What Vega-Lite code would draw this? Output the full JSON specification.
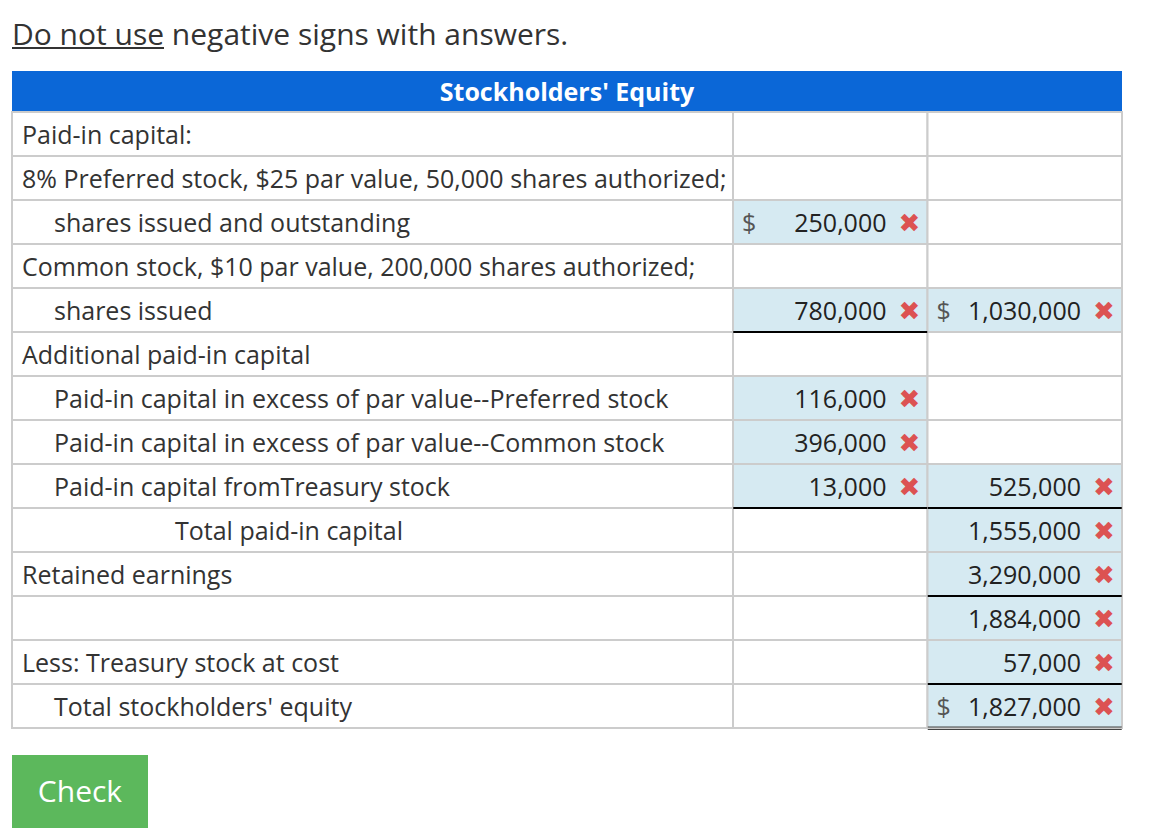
{
  "$schema": "https://vega.github.io/schema/vega-lite/v6.json",
  "width": 1165,
  "height": 834,
  "autosize": {"type": "fit", "contains": "padding"},
  "padding": 0,
  "background": "white",
  "config": {
    "view": {"stroke": null},
    "axis": {"disable": true},
    "legend": {"disable": true},
    "text": {"font": "Open Sans", "fontSize": 25, "color": "#333333"}
  },
  "datasets": {
    "table": [
      {"r": 1, "c": "L", "t": "Paid-in capital:", "lvl": 0},
      {"r": 2, "c": "L", "t": "8% Preferred stock, $25 par value, 50,000 shares authorized;", "lvl": 0},
      {"r": 3, "c": "L", "t": "shares issued and outstanding", "lvl": 1},
      {"r": 4, "c": "L", "t": "Common stock, $10 par value, 200,000 shares authorized;", "lvl": 0},
      {"r": 5, "c": "L", "t": "shares issued", "lvl": 1},
      {"r": 6, "c": "L", "t": "Additional paid-in capital", "lvl": 0},
      {"r": 7, "c": "L", "t": "Paid-in capital in excess of par value--Preferred stock", "lvl": 1},
      {"r": 8, "c": "L", "t": "Paid-in capital in excess of par value--Common stock", "lvl": 1},
      {"r": 9, "c": "L", "t": "Paid-in capital fromTreasury stock", "lvl": 1},
      {"r": 10, "c": "L", "t": "Total paid-in capital", "lvl": 2},
      {"r": 11, "c": "L", "t": "Retained earnings", "lvl": 0},
      {"r": 12, "c": "L", "t": "", "lvl": 0},
      {"r": 13, "c": "L", "t": "Less: Treasury stock at cost", "lvl": 0},
      {"r": 14, "c": "L", "t": "Total stockholders' equity", "lvl": 1},
      {"r": 1, "c": "A"}, {"r": 1, "c": "B"},
      {"r": 2, "c": "A"}, {"r": 2, "c": "B"},
      {"r": 3, "c": "A", "v": 250000, "cur": "$", "ok": false}, {"r": 3, "c": "B"},
      {"r": 4, "c": "A"}, {"r": 4, "c": "B"},
      {"r": 5, "c": "A", "v": 780000, "ok": false, "line": "single"},
      {"r": 5, "c": "B", "v": 1030000, "cur": "$", "ok": false},
      {"r": 6, "c": "A"}, {"r": 6, "c": "B"},
      {"r": 7, "c": "A", "v": 116000, "ok": false}, {"r": 7, "c": "B"},
      {"r": 8, "c": "A", "v": 396000, "ok": false}, {"r": 8, "c": "B"},
      {"r": 9, "c": "A", "v": 13000, "ok": false, "line": "single"},
      {"r": 9, "c": "B", "v": 525000, "ok": false, "line": "single"},
      {"r": 10, "c": "A"}, {"r": 10, "c": "B", "v": 1555000, "ok": false},
      {"r": 11, "c": "A"}, {"r": 11, "c": "B", "v": 3290000, "ok": false, "line": "single"},
      {"r": 12, "c": "A"}, {"r": 12, "c": "B", "v": 1884000, "ok": false},
      {"r": 13, "c": "A"}, {"r": 13, "c": "B", "v": 57000, "ok": false, "line": "single"},
      {"r": 14, "c": "A"}, {"r": 14, "c": "B", "v": 1827000, "cur": "$", "ok": false, "line": "double"}
    ]
  },
  "resolve": {"scale": {"x": "independent", "y": "independent"}},
  "layer": [
    {
      "data": {"values": [{"t": "Do not use negative signs with answers."}]},
      "mark": {"type": "text", "align": "left", "baseline": "alphabetic", "fontSize": 30, "color": "#333333"},
      "encoding": {
        "x": {"field": "t", "type": "nominal", "bandPosition": 0, "scale": {"type": "band", "range": [12, 600], "padding": 0}},
        "y": {"field": "t", "type": "nominal", "bandPosition": 1, "scale": {"type": "band", "range": [0, 45], "padding": 0}},
        "text": {"field": "t"}
      }
    },
    {
      "data": {"values": [{"u": "Do not use"}]},
      "mark": {"type": "tick", "orient": "horizontal", "size": 152, "thickness": 2, "color": "#333333", "opacity": 1},
      "encoding": {
        "x": {"field": "u", "type": "nominal", "scale": {"type": "band", "range": [12, 164], "padding": 0}},
        "y": {"field": "u", "type": "nominal", "bandPosition": 1, "scale": {"type": "band", "range": [0, 48], "padding": 0}}
      }
    },
    {
      "data": {"values": [{"h": "Stockholders' Equity"}]},
      "mark": {"type": "rect", "fill": "#0b67d7"},
      "encoding": {
        "x": {"field": "h", "type": "nominal", "scale": {"type": "band", "range": [12, 1122], "padding": 0}},
        "y": {"field": "h", "type": "nominal", "scale": {"type": "band", "range": [71, 112], "padding": 0}}
      }
    },
    {
      "data": {"values": [{"h": "Stockholders' Equity"}]},
      "mark": {"type": "text", "align": "center", "baseline": "middle", "fontWeight": "bold", "fontSize": 25, "color": "white", "dy": 1},
      "encoding": {
        "x": {"field": "h", "type": "nominal", "scale": {"type": "band", "range": [12, 1122], "padding": 0}},
        "y": {"field": "h", "type": "nominal", "scale": {"type": "band", "range": [71, 112], "padding": 0}},
        "text": {"field": "h"}
      }
    },
    {
      "data": {"name": "table"},
      "transform": [{"filter": "datum.c === 'L'"}],
      "mark": {"type": "rect", "fill": "white", "stroke": "#cccccc", "strokeWidth": 2},
      "encoding": {
        "x": {"field": "c", "type": "nominal", "scale": {"type": "band", "domain": ["L"], "range": [12, 733], "padding": 0}},
        "y": {"field": "r", "type": "ordinal", "scale": {"type": "band", "domain": [1,2,3,4,5,6,7,8,9,10,11,12,13,14], "range": [112, 728], "padding": 0}}
      }
    },
    {
      "data": {"name": "table"},
      "transform": [{"filter": "datum.c !== 'L'"}],
      "mark": {"type": "rect", "stroke": "#cccccc", "strokeWidth": 2},
      "encoding": {
        "x": {"field": "c", "type": "nominal", "scale": {"type": "band", "domain": ["A", "B"], "range": [733, 1122], "padding": 0}},
        "y": {"field": "r", "type": "ordinal", "scale": {"type": "band", "domain": [1,2,3,4,5,6,7,8,9,10,11,12,13,14], "range": [112, 728], "padding": 0}},
        "fill": {"condition": {"test": "isValid(datum.v)", "value": "#d6eaf2"}, "value": "white"}
      }
    },
    {
      "data": {"name": "table"},
      "transform": [{"filter": "datum.c === 'L'"}],
      "mark": {"type": "text", "align": "left", "baseline": "middle", "dy": 2, "fontSize": 25, "color": "#333333"},
      "encoding": {
        "x": {"field": "lvl", "type": "quantitative", "scale": {"domain": [0, 1, 2], "range": [22, 54, 175], "nice": false, "zero": false}},
        "y": {"field": "r", "type": "ordinal", "scale": {"type": "band", "domain": [1,2,3,4,5,6,7,8,9,10,11,12,13,14], "range": [112, 728], "padding": 0}},
        "text": {"field": "t"}
      }
    },
    {
      "data": {"name": "table"},
      "transform": [{"filter": "isValid(datum.v)"}],
      "mark": {"type": "text", "align": "right", "baseline": "middle", "dx": -41, "dy": 2, "fontSize": 25, "color": "#222222"},
      "encoding": {
        "x": {"field": "c", "type": "nominal", "bandPosition": 1, "scale": {"type": "band", "domain": ["A", "B"], "range": [733, 1122], "padding": 0}},
        "y": {"field": "r", "type": "ordinal", "scale": {"type": "band", "domain": [1,2,3,4,5,6,7,8,9,10,11,12,13,14], "range": [112, 728], "padding": 0}},
        "text": {"field": "v", "type": "quantitative", "format": ","}
      }
    },
    {
      "data": {"name": "table"},
      "transform": [{"filter": "isValid(datum.cur)"}],
      "mark": {"type": "text", "align": "left", "baseline": "middle", "dx": 9, "dy": 2, "fontSize": 25, "color": "#555555"},
      "encoding": {
        "x": {"field": "c", "type": "nominal", "bandPosition": 0, "scale": {"type": "band", "domain": ["A", "B"], "range": [733, 1122], "padding": 0}},
        "y": {"field": "r", "type": "ordinal", "scale": {"type": "band", "domain": [1,2,3,4,5,6,7,8,9,10,11,12,13,14], "range": [112, 728], "padding": 0}},
        "text": {"field": "cur"}
      }
    },
    {
      "data": {"name": "table"},
      "transform": [{"filter": "datum.ok === false"}],
      "mark": {"type": "text", "align": "center", "baseline": "middle", "dx": -18, "dy": 2, "font": "DejaVu Sans", "fontSize": 26, "color": "#dc5252"},
      "encoding": {
        "x": {"field": "c", "type": "nominal", "bandPosition": 1, "scale": {"type": "band", "domain": ["A", "B"], "range": [733, 1122], "padding": 0}},
        "y": {"field": "r", "type": "ordinal", "scale": {"type": "band", "domain": [1,2,3,4,5,6,7,8,9,10,11,12,13,14], "range": [112, 728], "padding": 0}},
        "text": {"value": "✖"}
      }
    },
    {
      "data": {"name": "table"},
      "transform": [{"filter": "datum.line === 'single'"}],
      "mark": {"type": "tick", "orient": "horizontal", "size": 194, "thickness": 2, "color": "#000000", "opacity": 1},
      "encoding": {
        "x": {"field": "c", "type": "nominal", "scale": {"type": "band", "domain": ["A", "B"], "range": [733, 1122], "padding": 0}},
        "y": {"field": "r", "type": "ordinal", "bandPosition": 1, "scale": {"type": "band", "domain": [1,2,3,4,5,6,7,8,9,10,11,12,13,14], "range": [112, 728], "padding": 0}}
      }
    },
    {
      "data": {"name": "table"},
      "transform": [{"filter": "datum.line === 'double'"}],
      "mark": {"type": "tick", "orient": "horizontal", "size": 194, "thickness": 1.2, "color": "#444444", "opacity": 1, "yOffset": -1},
      "encoding": {
        "x": {"field": "c", "type": "nominal", "scale": {"type": "band", "domain": ["A", "B"], "range": [733, 1122], "padding": 0}},
        "y": {"field": "r", "type": "ordinal", "bandPosition": 1, "scale": {"type": "band", "domain": [1,2,3,4,5,6,7,8,9,10,11,12,13,14], "range": [112, 728], "padding": 0}}
      }
    },
    {
      "data": {"name": "table"},
      "transform": [{"filter": "datum.line === 'double'"}],
      "mark": {"type": "tick", "orient": "horizontal", "size": 194, "thickness": 1.2, "color": "#444444", "opacity": 1, "yOffset": 1.5},
      "encoding": {
        "x": {"field": "c", "type": "nominal", "scale": {"type": "band", "domain": ["A", "B"], "range": [733, 1122], "padding": 0}},
        "y": {"field": "r", "type": "ordinal", "bandPosition": 1, "scale": {"type": "band", "domain": [1,2,3,4,5,6,7,8,9,10,11,12,13,14], "range": [112, 728], "padding": 0}}
      }
    },
    {
      "data": {"values": [{"b": "Check"}]},
      "mark": {"type": "rect", "fill": "#5cb85c"},
      "encoding": {
        "x": {"field": "b", "type": "nominal", "scale": {"type": "band", "range": [12, 148], "padding": 0}},
        "y": {"field": "b", "type": "nominal", "scale": {"type": "band", "range": [755, 828], "padding": 0}}
      }
    },
    {
      "data": {"values": [{"b": "Check"}]},
      "mark": {"type": "text", "align": "center", "baseline": "middle", "fontSize": 30, "color": "white", "dy": 1},
      "encoding": {
        "x": {"field": "b", "type": "nominal", "scale": {"type": "band", "range": [12, 148], "padding": 0}},
        "y": {"field": "b", "type": "nominal", "scale": {"type": "band", "range": [755, 828], "padding": 0}},
        "text": {"field": "b"}
      }
    }
  ]
}
